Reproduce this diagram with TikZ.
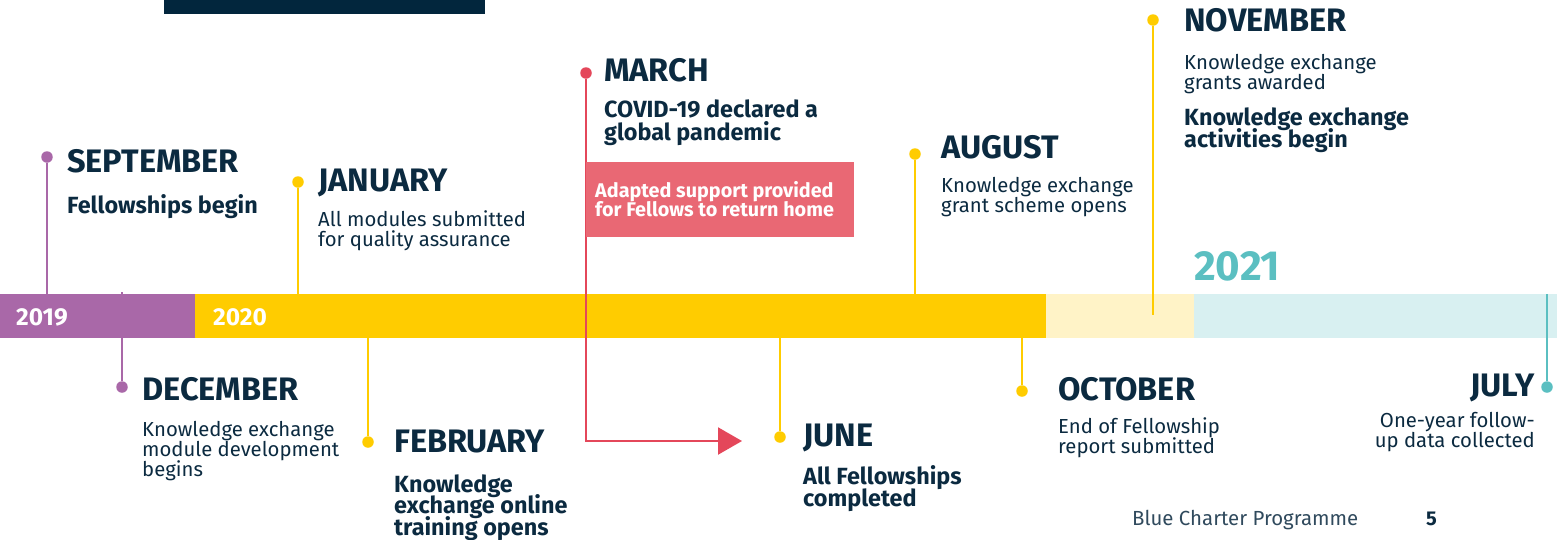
\documentclass[tikz,border=0pt]{standalone}
\usepackage{fontspec}
\setmainfont{Fira Sans}
\usetikzlibrary{arrows.meta}
\usetikzlibrary{positioning}
\definecolor{ink}{HTML}{0B2A40}
\definecolor{navy}{HTML}{02263D}
\definecolor{plum}{HTML}{A968A8}
\definecolor{gold}{HTML}{FFCC00}
\definecolor{cream}{HTML}{FFF3C7}
\definecolor{mist}{HTML}{D8F0F1}
\definecolor{teal}{HTML}{5BBFC1}
\definecolor{coral}{HTML}{E96874}
\definecolor{scarlet}{HTML}{E4475A}
\newcommand{\tight}[2]{\fontsize{#1}{#2}\selectfont\lineskiplimit=-100pt}

\begin{document}
\begin{tikzpicture}[x=1pt,y=-1pt]
		\tikzset{
			month/.style={anchor=base west,inner sep=0pt,text=ink,font=\fontsize{32.5}{32}\selectfont\bfseries},
			note/.style={anchor=base west,inner sep=0pt,text=ink,align=left,font=\tight{20.3}{19.6}},
			boldnote/.style={note,font=\tight{23.4}{22}\bfseries},
			pin/.style={circle,fill=#1,inner sep=0pt,minimum size=11.5pt},
			stem/.style={draw=#1,line width=2.2pt},
			seg/.style={anchor=north west,inner sep=0pt,minimum height=44pt,fill=#1},
			year/.style={anchor=base west,inner sep=0pt,text=white,font=\fontsize{24.5}{24}\selectfont\bfseries},
		}
		\useasboundingbox (0,0) rectangle (1557,539);
		\fill[navy] (164,0) rectangle (485,14);
		
		\node[pin=plum] (decdot) at (122,387) {};
		\draw[stem=plum] (decdot) -- (122,292);
		\node[seg=plum,minimum width=195pt] (bar19) at (0,294) {};
		\node[seg=gold,minimum width=851pt] (bar20) at (195,294) {};
		\node[seg=cream,minimum width=148pt] (barmid) at (1046,294) {};
		\node[seg=mist,minimum width=363pt] (bar21) at (1194,294) {};
		\node[year] (y19) at (16,325) {2019};
		\node[year] (y20) at (213,325) {2020};
		\node[year,text=teal,font=\fontsize{42}{42}\selectfont\bfseries] (y21) at (1194,280) {2021};
		
		\node[pin=plum] (sepdot) at (47,157) {};
		\draw[stem=plum] (sepdot) -- (sepdot |- bar19.north);
		\node[month] (sep) at (67,172) {SEPTEMBER};
		\node[boldnote] (sepnote) at (67,213) {Fellowships begin};
		
		\node[month] (dec) at (142,400) {DECEMBER};
		\node[note] (decnote) at (142,476) {Knowledge exchange\\module development\\begins};
		
		\node[pin=gold] (jandot) at (298,182) {};
		\draw[stem=gold] (jandot) -- (jandot |- bar20.north);
		\node[month] (jan) at (318,191) {JANUARY};
		\node[note] (jannote) at (318,246) {All modules submitted\\for quality assurance};
		
		\node[pin=gold] (febdot) at (368,442) {};
		\draw[stem=gold] (febdot) -- (febdot |- bar20.south);
		\node[month] (feb) at (394,452) {FEBRUARY};
		\node[boldnote,font=\tight{23.4}{21.5}\bfseries] (febnote) at (394,535) {Knowledge\\exchange online\\training opens};
		
		\node[pin=scarlet] (mardot) at (586,73) {};
		\coordinate (marturn) at (586,441);
		\coordinate (marend) at (742,441);
		\draw[scarlet,line width=2.2pt,-{Triangle[length=24pt,width=27pt]}] (mardot) -- (marturn) -- (marend);
		\node[month] (mar) at (604,81) {MARCH};
		\node[boldnote,font=\tight{23.4}{23}\bfseries] (marnote) at (604,140) {COVID-19 declared a\\global pandemic};
		\node[anchor=north west,inner sep=0pt,fill=coral,minimum width=268pt,minimum height=75pt] (marbox) at (586,162) {};
		\node[boldnote,text=white,font=\tight{19.8}{19}\bfseries] (marboxtext) at (595,216) {Adapted support provided\\for Fellows to return home};
		
		\node[pin=gold] (jundot) at (780,437) {};
		\draw[stem=gold] (jundot) -- (jundot |- bar20.south);
		\node[month] (jun) at (803,446) {JUNE};
		\node[boldnote] (junnote) at (803,506) {All Fellowships\\completed};
		
		\node[pin=gold] (augdot) at (915,154) {};
		\draw[stem=gold] (augdot) -- (augdot |- bar20.north);
		\node[month] (aug) at (941,158) {AUGUST};
		\node[note] (augnote) at (941,212) {Knowledge exchange\\grant scheme opens};
		
		\node[pin=gold] (octdot) at (1022,391) {};
		\draw[stem=gold] (octdot) -- (octdot |- bar20.south);
		\node[month] (oct) at (1058,400) {OCTOBER};
		\node[note] (octnote) at (1058,453) {End of Fellowship\\report submitted};
		
		\node[pin=gold] (novdot) at (1153,20) {};
		\coordinate (novend) at (1153,315);
		\draw[stem=gold] (novdot) -- (novend);
		\node[month] (nov) at (1184,31) {NOVEMBER};
		\node[note] (novnote) at (1184,89) {Knowledge exchange\\grants awarded};
		\node[boldnote] (novnote2) at (1184,147) {Knowledge exchange\\activities begin};
		
		\node[pin=teal] (juldot) at (1547,387) {};
		\draw[stem=teal] (juldot) -- (juldot |- bar21.north);
		\node[month,anchor=base east] (jul) at (1535,396) {JULY};
		\node[note,anchor=base east,align=right] (julnote) at (1535,447) {One-year follow-\\up data collected};
		
		\node[note,text=ink!85,font=\fontsize{20.4}{20}\selectfont] (footer) at (1132,525) {Blue Charter Programme};
		\node[month,font=\fontsize{20}{20}\selectfont\bfseries] (page) at (1426,525) {5};
\end{tikzpicture}
\end{document}
